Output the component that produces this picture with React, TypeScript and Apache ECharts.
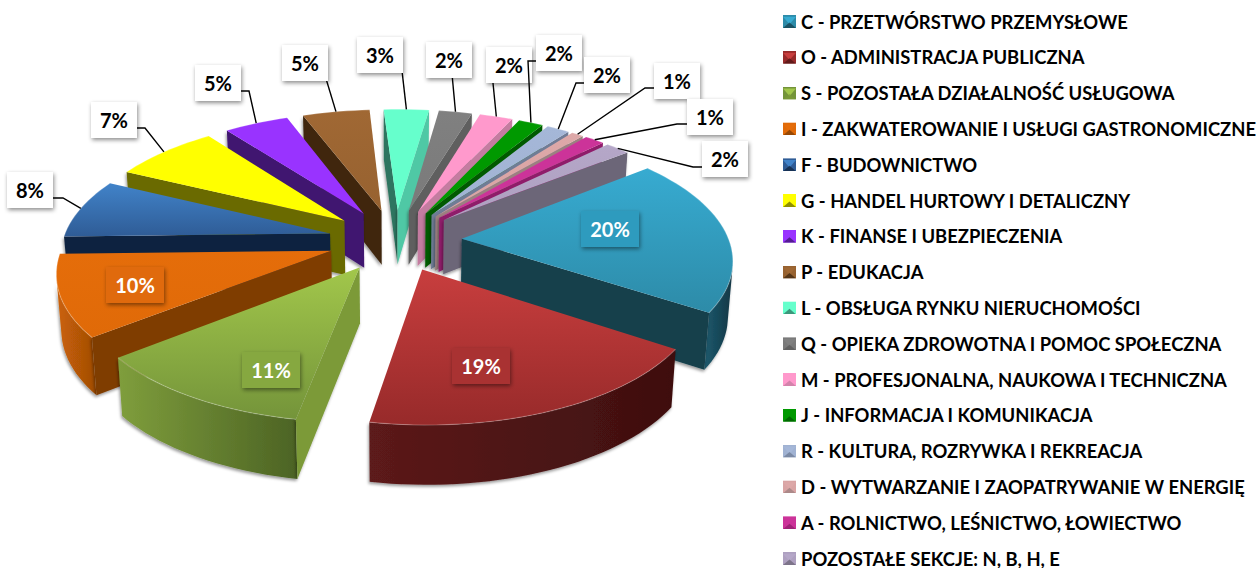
import React, { useEffect, useRef } from "react";
import * as echarts from "echarts";

const categories = [
  "C - PRZETWÓRSTWO PRZEMYSŁOWE",
  "O - ADMINISTRACJA PUBLICZNA",
  "S - POZOSTAŁA DZIAŁALNOŚĆ USŁUGOWA",
  "I - ZAKWATEROWANIE I USŁUGI GASTRONOMICZNE",
  "F - BUDOWNICTWO",
  "G - HANDEL HURTOWY I DETALICZNY",
  "K - FINANSE I UBEZPIECZENIA",
  "P - EDUKACJA",
  "L - OBSŁUGA RYNKU NIERUCHOMOŚCI",
  "Q - OPIEKA ZDROWOTNA I POMOC SPOŁECZNA",
  "M - PROFESJONALNA, NAUKOWA I TECHNICZNA",
  "J - INFORMACJA I KOMUNIKACJA",
  "R - KULTURA, ROZRYWKA I REKREACJA",
  "D - WYTWARZANIE I ZAOPATRYWANIE W ENERGIĘ",
  "A - ROLNICTWO, LEŚNICTWO, ŁOWIECTWO",
  "POZOSTAŁE SEKCJE: N, B, H, E",
];
const values = [20.0, 18.5, 11.45, 10.3, 7.6, 7.49, 4.56, 4.75, 3.2, 2.35, 2.35, 1.75, 1.6, 0.85, 1.4, 1.75];

const topLight = ["#37ABD1", "#C83E3E", "#A2C74B", "#E56D0A", "#4183C9", "#FFFF00", "#9933FF", "#A06834", "#66FFCC", "#808080", "#FF99CC", "#009900", "#A5B7D8", "#DDA8A8", "#CC3399", "#B5A7C8"];
const topDark = ["#2D8BA8", "#972A2A", "#74943A", "#E06A08", "#2F5C96", "#FFFF00", "#9933FF", "#976230", "#66FFCC", "#7A7A7A", "#FF99CC", "#009900", "#A0B2D2", "#D9A4A4", "#CC3399", "#AEA0C0"];
const boxFill = ["#2F9BBE", "#A93131", "#86A83F", "#E06A08"];
const startFace = ["#143F4C", "#4F1515", "#7B9A38", "#7F3D03", "#10243F", "#6B6B00", "#3F1570", "#3F2810", "#2F7560", "#5A5A5A", "#C47CA0", "#005A00", "#6F7C96", "#9C8080", "#8F1F6B", "#6C6678"];
const endFace = ["#143F4C", "#4F1515", "#7B9A38", "#7F3D03", "#10243F", "#6B6B00", "#3F1570", "#3F2810", "#50C8A5", "#5F5F5F", "#C47CA0", "#005A00", "#6F7C96", "#9C8080", "#8F1F6B", "#6C6678"];
const wallLeft = ["#1D5A6E", "#5C1A1A", "#7F9E3C", "#CC6208", "#10243F", "#6B6B00", "#3F1570", "#3F2810", "#2F7560", "#5A5A5A", "#C47CA0", "#005A00", "#6F7C96", "#9C8080", "#8F1F6B", "#6C6678"];
const wallRight = ["#123644", "#3E0F0F", "#4C6324", "#A04C05", "#10243F", "#6B6B00", "#3F1570", "#3F2810", "#2F7560", "#5A5A5A", "#C47CA0", "#005A00", "#6F7C96", "#9C8080", "#8F1F6B", "#6C6678"];

// label layout: box centre, elbow of the leader (null = none), inside = coloured box on the slice
const labelCentres = [[610, 229], [481, 366], [271, 370], [135, 285], [30, 190], [114, 120], [218, 83], [305, 63], [380, 55], [449, 60], [509, 65], [559, 53], [607, 75], [677, 81], [710, 117], [725, 159]];
const labelStubs: (number[][] | null)[] = [
  null, null, null, null,
  [[53, 198], [63, 198]],
  [[133, 128], [145, 128]],
  [[237, 91], [249, 91]],
  [[324, 72]],
  [[401, 62]],
  [[452, 74]],
  [[492, 73]],
  [[540, 61], [528, 61]],
  [[588, 83], [576, 83]],
  [[657, 88], [645, 88]],
  [[687, 124], [677, 124]],
  [[705, 167], [693, 167]],
];

const CX = 395, CY = 240, RX = 267, RY = 123.5, P = 0.145, EXPLODE = 0.251, DEPTH = 55;
const START_DEG = -38.5;
const FONT = "Lato";

function project(u: number, v: number, drop = false): number[] {
  const s = 1 / (1 - P * v);
  const x = CX + RX * u * s;
  const y = CY + RY * v * s;
  if (!drop) return [x, y];
  return [CX + (x - CX) * 0.985, y + DEPTH * (1 + 0.07 * v)];
}

const total = values.reduce((a, b) => a + b, 0);
const geometry = (() => {
  let acc = (START_DEG * Math.PI) / 180;
  return values.map((val) => {
    const a0 = acc;
    const a1 = acc + (val / total) * Math.PI * 2;
    acc = a1;
    const mid = (a0 + a1) / 2;
    return { a0, a1, mid, ax: EXPLODE * Math.cos(mid), ay: EXPLODE * Math.sin(mid) };
  });
})();

function signedArea(pts: number[][]) {
  let s = 0;
  for (let i = 0; i < pts.length; i++) {
    const [x1, y1] = pts[i];
    const [x2, y2] = pts[(i + 1) % pts.length];
    s += x1 * y2 - x2 * y1;
  }
  return s / 2;
}

function renderSlice(i: number) {
  const g = geometry[i];
  const steps = Math.max(4, Math.ceil(((g.a1 - g.a0) * 180) / Math.PI / 2));
  const arcUV: number[][] = [];
  for (let k = 0; k <= steps; k++) {
    const a = g.a0 + ((g.a1 - g.a0) * k) / steps;
    arcUV.push([g.ax + Math.cos(a), g.ay + Math.sin(a)]);
  }
  const apexT = project(g.ax, g.ay);
  const apexB = project(g.ax, g.ay, true);
  const arcT = arcUV.map(([u, v]) => project(u, v));
  const arcB = arcUV.map(([u, v]) => project(u, v, true));
  const children: any[] = [];
  const shadow = { shadowColor: "rgba(0,0,0,0.4)", shadowBlur: 3, shadowOffsetX: -1, shadowOffsetY: 2 };

  // outer wall: contiguous runs of arc steps that face the viewer
  let run: number[] = [];
  const flush = () => {
    if (run.length) {
      const top = run.concat(run[run.length - 1] + 1).map((k) => arcT[k]);
      const bot = run.concat(run[run.length - 1] + 1).map((k) => arcB[k]).reverse();
      children.push({
        type: "polygon",
        shape: { points: top.concat(bot) },
        style: {
          fill: new echarts.graphic.LinearGradient(0, 0, 1, 0, [
            { offset: 0, color: wallLeft[i] },
            { offset: 1, color: wallRight[i] },
          ]),
          ...shadow,
        },
      });
    }
    run = [];
  };
  for (let k = 0; k < steps; k++) {
    const q = [arcT[k], arcT[k + 1], arcB[k + 1], arcB[k]];
    if (signedArea(q) < 0) run.push(k);
    else flush();
  }
  flush();

  // radial faces
  const startQ = [apexT, arcT[0], arcB[0], apexB];
  const endQ = [arcT[steps], apexT, apexB, arcB[steps]];
  if (signedArea(startQ) < 0) children.push({ type: "polygon", shape: { points: startQ }, style: { fill: startFace[i], ...shadow } });
  if (signedArea(endQ) < 0) children.push({ type: "polygon", shape: { points: endQ }, style: { fill: endFace[i], ...shadow } });

  // top face
  children.push({
    type: "polygon",
    shape: { points: [apexT, ...arcT] },
    style: {
      fill: new echarts.graphic.LinearGradient(0, 0, 0, 1, [
        { offset: 0, color: topLight[i] },
        { offset: 1, color: topDark[i] },
      ]),
    },
  });
  children.push({
    type: "polyline",
    shape: { points: arcT },
    style: { stroke: "rgba(255,255,255,0.22)", lineWidth: 1.2, fill: "none" },
  });
  return { type: "group", children };
}

function renderLabel(i: number) {
  const [cx, cy] = labelCentres[i];
  const stub = labelStubs[i];
  const inside = !stub;
  const wide = values[i] >= 9.5;
  const w = wide ? 58 : 46;
  const h = 36;
  const g = geometry[i];
  const children: any[] = [];
  if (stub) {
    const end = project(g.ax + Math.cos(g.mid), g.ay + Math.sin(g.mid));
    children.push({
      type: "polyline",
      shape: { points: [...stub, end] },
      style: { stroke: "#000", lineWidth: 1.4, fill: "none" },
    });
  }
  children.push({
    type: "rect",
    shape: { x: cx - w / 2, y: cy - h / 2, width: w, height: h },
    style: {
      fill: inside ? boxFill[i] : "#fff",
      shadowColor: "rgba(0,0,0,0.45)",
      shadowBlur: 4,
      shadowOffsetX: 1,
      shadowOffsetY: 2,
    },
  });
  children.push({
    type: "text",
    style: {
      x: cx,
      y: cy,
      text: `${Math.round(values[i])}%`,
      align: "center",
      verticalAlign: "middle",
      fill: inside ? "#fff" : "#000",
      font: `bold 20px ${FONT}`,
    },
  });
  return { type: "group", children };
}

function swatch(i: number) {
  const svg =
    `<svg xmlns="http://www.w3.org/2000/svg" width="14" height="14" viewBox="0 0 14 14">` +
    `<rect width="14" height="14" fill="${topDark[i]}"/>` +
    `<polygon points="0,2 14,2 7,10" fill="${topLight[i]}"/>` +
    `<polygon points="0,14 14,14 7,8" fill="${startFace[i]}" opacity="0.75"/>` +
    `</svg>`;
  return "image://data:image/svg+xml," + encodeURIComponent(svg);
}

export default function App() {
  const ref = useRef<HTMLDivElement>(null);
  useEffect(() => {
    document.body.style.margin = "0";
    const chart = echarts.init(ref.current!, undefined, { renderer: "svg" });
    const order = values
      .map((_, i) => i)
      .sort((a, b) => project(geometry[a].ax, geometry[a].ay)[1] - project(geometry[b].ax, geometry[b].ay)[1]);
    const sliceSeries = categories.map((name, i) => ({
      type: "custom",
      name,
      coordinateSystem: "none",
      z: 2 + order.indexOf(i),
      silent: true,
      data: [[values[i]]],
      itemStyle: { color: topDark[i] },
      renderItem: () => renderSlice(i),
    }));
    chart.setOption({
      animation: false,
      backgroundColor: "#fff",
      legend: {
        orient: "vertical",
        left: 783,
        top: 12.5,
        height: 620,
        padding: 0,
        itemWidth: 13,
        itemHeight: 13,
        itemGap: 17.8,
        selectedMode: false,
        data: categories.map((name, i) => ({ name, icon: swatch(i) })),
        textStyle: { fontFamily: FONT, fontWeight: "bold", fontSize: 18.4, color: "#000", lineHeight: 16, padding: 0 },
      },
      series: [
        ...sliceSeries,
        {
          type: "custom",
          name: "labels",
          coordinateSystem: "none",
          z: 40,
          silent: true,
          data: values.map((v) => [v]),
          renderItem: (params: any) => renderLabel(params.dataIndex),
        },
      ],
    });
    return () => chart.dispose();
  }, []);
  return <div ref={ref} style={{ width: 1259, height: 568 }} />;
}
